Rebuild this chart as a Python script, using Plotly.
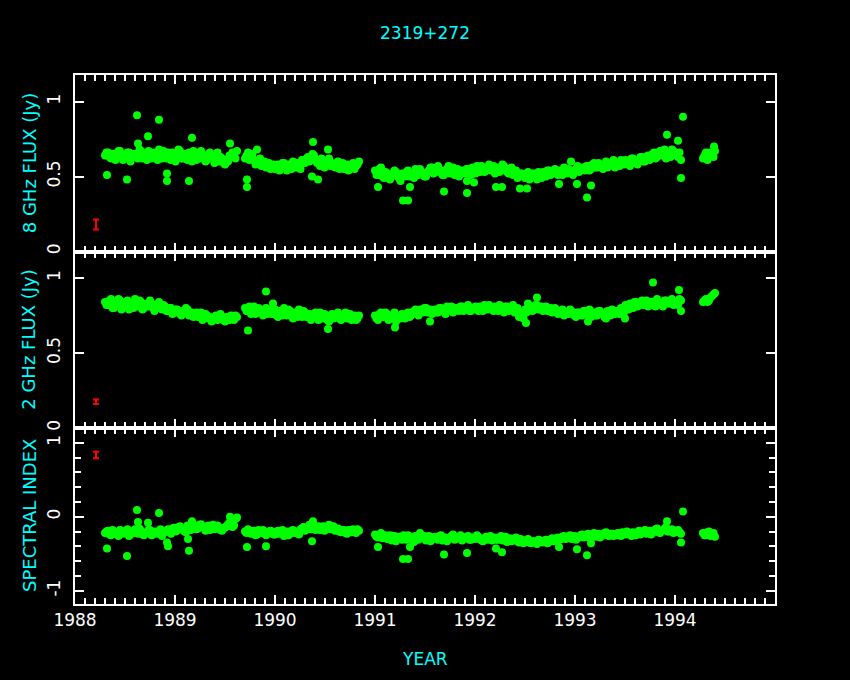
import plotly.graph_objects as go

# ---------------- data ----------------
dates_a = [1988.30, 1988.33, 1988.36, 1988.39, 1988.42, 1988.45, 1988.48, 1988.51, 1988.54, 1988.57,
           1988.60, 1988.63, 1988.66, 1988.69, 1988.72, 1988.75, 1988.78, 1988.81, 1988.84, 1988.87,
           1988.90, 1988.93, 1988.96, 1988.99, 1989.02, 1989.05, 1989.08, 1989.11, 1989.14, 1989.17,
           1989.20, 1989.23, 1989.26, 1989.29, 1989.32, 1989.35, 1989.38, 1989.41, 1989.44, 1989.47,
           1989.50, 1989.53, 1989.56, 1989.59, 1989.62]
dates_b = [1989.70, 1989.73, 1989.76, 1989.79, 1989.82, 1989.85, 1989.88, 1989.91, 1989.94, 1989.97,
           1990.00, 1990.03, 1990.06, 1990.09, 1990.12, 1990.15, 1990.18, 1990.21, 1990.24, 1990.27,
           1990.30, 1990.33, 1990.36, 1990.39, 1990.42, 1990.45, 1990.48, 1990.51, 1990.54, 1990.57,
           1990.60, 1990.63, 1990.66, 1990.69, 1990.72, 1990.75, 1990.78, 1990.81, 1990.84]
dates_c = [1991.00, 1991.03, 1991.06, 1991.09, 1991.12, 1991.15, 1991.18, 1991.21, 1991.24, 1991.27,
           1991.30, 1991.33, 1991.36, 1991.39, 1991.42, 1991.45, 1991.48, 1991.51, 1991.54, 1991.57,
           1991.60, 1991.63, 1991.66, 1991.69, 1991.72, 1991.75, 1991.78, 1991.81, 1991.84, 1991.87,
           1991.90, 1991.93, 1991.96, 1991.99,
           1992.02, 1992.05, 1992.08, 1992.11, 1992.14, 1992.17, 1992.20, 1992.23, 1992.26, 1992.29,
           1992.32, 1992.35, 1992.38, 1992.41, 1992.44, 1992.47, 1992.50, 1992.53, 1992.56, 1992.59,
           1992.62, 1992.65, 1992.68, 1992.71, 1992.74, 1992.77, 1992.80, 1992.83, 1992.86, 1992.89,
           1992.92, 1992.95, 1992.98,
           1993.01, 1993.04, 1993.07, 1993.10, 1993.13, 1993.16, 1993.19, 1993.22, 1993.25, 1993.28,
           1993.31, 1993.34, 1993.37, 1993.40, 1993.43, 1993.46, 1993.49, 1993.52, 1993.55, 1993.58,
           1993.61, 1993.64, 1993.67, 1993.70, 1993.73, 1993.76, 1993.79, 1993.82, 1993.85, 1993.88,
           1993.91, 1993.94, 1993.97,
           1994.00, 1994.03, 1994.06]
dates_d = [1994.28, 1994.31, 1994.34, 1994.37, 1994.40]

# interleaved second set of observation dates
dates2_a = [1988.315, 1988.345, 1988.375, 1988.405, 1988.435, 1988.465, 1988.495, 1988.525, 1988.555, 1988.585,
            1988.615, 1988.645, 1988.675, 1988.705, 1988.735, 1988.765, 1988.795, 1988.825, 1988.855, 1988.885,
            1988.915, 1988.945, 1988.975, 1989.005, 1989.035, 1989.065, 1989.095, 1989.125, 1989.155, 1989.185,
            1989.215, 1989.245, 1989.275, 1989.305, 1989.335, 1989.365, 1989.395, 1989.425, 1989.455, 1989.485,
            1989.515, 1989.545, 1989.575, 1989.605]
dates2_b = [1989.715, 1989.745, 1989.775, 1989.805, 1989.835, 1989.865, 1989.895, 1989.925, 1989.955, 1989.985,
            1990.015, 1990.045, 1990.075, 1990.105, 1990.135, 1990.165, 1990.195, 1990.225, 1990.255, 1990.285,
            1990.315, 1990.345, 1990.375, 1990.405, 1990.435, 1990.465, 1990.495, 1990.525, 1990.555, 1990.585,
            1990.615, 1990.645, 1990.675, 1990.705, 1990.735, 1990.765, 1990.795, 1990.825]
dates2_c = [1991.015, 1991.045, 1991.075, 1991.105, 1991.135, 1991.165, 1991.195, 1991.225, 1991.255, 1991.285,
            1991.315, 1991.345, 1991.375, 1991.405, 1991.435, 1991.465, 1991.495, 1991.525, 1991.555, 1991.585,
            1991.615, 1991.645, 1991.675, 1991.705, 1991.735, 1991.765, 1991.795, 1991.825, 1991.855, 1991.885,
            1991.915, 1991.945, 1991.975,
            1992.005, 1992.035, 1992.065, 1992.095, 1992.125, 1992.155, 1992.185, 1992.215, 1992.245, 1992.275,
            1992.305, 1992.335, 1992.365, 1992.395, 1992.425, 1992.455, 1992.485, 1992.515, 1992.545, 1992.575,
            1992.605, 1992.635, 1992.665, 1992.695, 1992.725, 1992.755, 1992.785, 1992.815, 1992.845, 1992.875,
            1992.905, 1992.935, 1992.965, 1992.995,
            1993.025, 1993.055, 1993.085, 1993.115, 1993.145, 1993.175, 1993.205, 1993.235, 1993.265, 1993.295,
            1993.325, 1993.355, 1993.385, 1993.415, 1993.445, 1993.475, 1993.505, 1993.535, 1993.565, 1993.595,
            1993.625, 1993.655, 1993.685, 1993.715, 1993.745, 1993.775, 1993.805, 1993.835, 1993.865, 1993.895,
            1993.925, 1993.955, 1993.985,
            1994.015, 1994.045]
dates2_d = [1994.295, 1994.325, 1994.355, 1994.385]

# 8 GHz flux (Jy)
s8_a = [0.64, 0.66, 0.62, 0.65, 0.63, 0.67, 0.61, 0.64, 0.66, 0.63,
        0.65, 0.62, 0.67, 0.64, 0.61, 0.66, 0.63, 0.65, 0.68, 0.62,
        0.64, 0.66, 0.61, 0.65, 0.63, 0.67, 0.62, 0.64, 0.66, 0.60,
        0.65, 0.63, 0.67, 0.64, 0.61, 0.66, 0.62, 0.64, 0.60, 0.62,
        0.58, 0.60, 0.63, 0.65, 0.67]
s8_b = [0.62, 0.66, 0.63, 0.61, 0.59, 0.62, 0.58, 0.56, 0.59, 0.57,
        0.55, 0.58, 0.56, 0.59, 0.54, 0.57, 0.60, 0.56, 0.58, 0.61,
        0.59, 0.63, 0.61, 0.64, 0.59, 0.57, 0.61, 0.58, 0.62, 0.59,
        0.56, 0.60, 0.57, 0.55, 0.58, 0.56, 0.59, 0.57, 0.60]
s8_c = [0.54, 0.51, 0.56, 0.49, 0.52, 0.48, 0.51, 0.53, 0.49, 0.52,
        0.50, 0.54, 0.51, 0.49, 0.53, 0.55, 0.52, 0.50, 0.54, 0.56,
        0.53, 0.57, 0.54, 0.51, 0.55, 0.52, 0.56, 0.53, 0.50, 0.54,
        0.52, 0.55, 0.51, 0.54, 0.57, 0.53, 0.56, 0.54, 0.58, 0.55,
        0.52, 0.56, 0.54, 0.57, 0.53, 0.55, 0.51, 0.54, 0.50, 0.52,
        0.49, 0.53, 0.50, 0.52, 0.48, 0.51, 0.53, 0.50, 0.54, 0.52,
        0.55, 0.51, 0.53, 0.56, 0.52, 0.54, 0.51, 0.55, 0.53, 0.56,
        0.54, 0.57, 0.55, 0.59, 0.56, 0.58, 0.55, 0.60, 0.57, 0.59,
        0.56, 0.59, 0.61, 0.58, 0.60, 0.57, 0.62, 0.59, 0.61, 0.63,
        0.60, 0.64, 0.62, 0.66, 0.63, 0.67, 0.64, 0.62, 0.66, 0.68,
        0.65, 0.63, 0.61]
s8_d = [0.62, 0.66, 0.63, 0.65, 0.67]
s8_2a = [0.66, 0.63, 0.65, 0.61, 0.67, 0.64, 0.62, 0.66, 0.60, 0.65,
         0.63, 0.68, 0.62, 0.65, 0.67, 0.62, 0.66, 0.61, 0.64, 0.67,
         0.62, 0.63, 0.66, 0.60, 0.68, 0.62, 0.65, 0.61, 0.63, 0.67,
         0.61, 0.66, 0.62, 0.60, 0.65, 0.63, 0.59, 0.66, 0.63, 0.59,
         0.61, 0.64, 0.66, 0.62]
s8_2b = [0.64, 0.61, 0.65, 0.58, 0.60, 0.57, 0.60, 0.58, 0.55, 0.58,
         0.57, 0.54, 0.59, 0.56, 0.58, 0.55, 0.58, 0.59, 0.55, 0.60,
         0.62, 0.60, 0.65, 0.61, 0.59, 0.62, 0.56, 0.60, 0.57, 0.58,
         0.58, 0.55, 0.59, 0.57, 0.54, 0.58, 0.55, 0.58]
s8_2c = [0.51, 0.55, 0.50, 0.53, 0.49, 0.52, 0.54, 0.50, 0.47, 0.51,
         0.53, 0.50, 0.52, 0.55, 0.51, 0.53, 0.50, 0.53, 0.56, 0.52,
         0.55, 0.53, 0.51, 0.54, 0.57, 0.53, 0.51, 0.55, 0.52, 0.53,
         0.55, 0.53, 0.56, 0.52, 0.55, 0.57, 0.53, 0.56, 0.54, 0.57,
         0.55, 0.53, 0.58, 0.55, 0.52, 0.56, 0.53, 0.49, 0.52, 0.50,
         0.51, 0.48, 0.52, 0.50, 0.53, 0.49, 0.51, 0.54, 0.51, 0.53,
         0.52, 0.54, 0.51, 0.53, 0.55, 0.52, 0.54, 0.57, 0.54, 0.55,
         0.57, 0.54, 0.58, 0.56, 0.59, 0.57, 0.58, 0.56, 0.59, 0.61,
         0.58, 0.57, 0.59, 0.61, 0.58, 0.62, 0.60, 0.58, 0.63, 0.60,
         0.63, 0.61, 0.65, 0.62, 0.64, 0.66, 0.68, 0.65, 0.63, 0.67,
         0.64, 0.66]
s8_2d = [0.64, 0.61, 0.66, 0.63]

# 2 GHz flux (Jy)
s2_a = [0.84, 0.82, 0.86, 0.80, 0.83, 0.85, 0.81, 0.84, 0.79, 0.83,
        0.86, 0.81, 0.84, 0.80, 0.83, 0.85, 0.80, 0.82, 0.84, 0.79,
        0.81, 0.78, 0.80, 0.77, 0.79, 0.76, 0.78, 0.80, 0.75, 0.77,
        0.76, 0.74, 0.77, 0.73, 0.75, 0.74, 0.72, 0.75, 0.73, 0.74,
        0.71, 0.73, 0.75, 0.72, 0.74]
s2_b = [0.80, 0.78, 0.76, 0.81, 0.77, 0.79, 0.75, 0.80, 0.78, 0.76,
        0.79, 0.74, 0.77, 0.80, 0.75, 0.78, 0.73, 0.76, 0.79, 0.74,
        0.77, 0.75, 0.72, 0.76, 0.74, 0.77, 0.73, 0.75, 0.71, 0.76,
        0.74, 0.77, 0.72, 0.75, 0.73, 0.76, 0.74, 0.72, 0.75]
s2_c = [0.75, 0.72, 0.77, 0.74, 0.76, 0.73, 0.75, 0.71, 0.74, 0.76,
        0.73, 0.77, 0.75, 0.78, 0.76, 0.79, 0.77, 0.80, 0.78, 0.76,
        0.79, 0.77, 0.80, 0.78, 0.81, 0.79, 0.77, 0.80, 0.78, 0.81,
        0.79, 0.82, 0.78, 0.80, 0.79, 0.81, 0.78, 0.80, 0.82, 0.79,
        0.81, 0.78, 0.80, 0.77, 0.81, 0.79, 0.82, 0.78, 0.74, 0.76,
        0.79, 0.83, 0.81, 0.79, 0.82, 0.80, 0.78, 0.81, 0.79, 0.77,
        0.80, 0.76, 0.78, 0.75, 0.77, 0.79, 0.76, 0.74, 0.77, 0.75,
        0.78, 0.76, 0.74, 0.77, 0.75, 0.78, 0.76, 0.73, 0.77, 0.79,
        0.76, 0.78, 0.80, 0.77, 0.81, 0.83, 0.80, 0.84, 0.82, 0.85,
        0.83, 0.81, 0.84, 0.82, 0.86, 0.83, 0.81, 0.85, 0.83, 0.86,
        0.84, 0.82, 0.85]
s2_d = [0.84, 0.86, 0.85, 0.88, 0.90]
s2_2a = [0.82, 0.85, 0.80, 0.83, 0.86, 0.79, 0.82, 0.85, 0.81, 0.80,
         0.83, 0.85, 0.79, 0.82, 0.81, 0.83, 0.78, 0.81, 0.80, 0.82,
         0.78, 0.80, 0.76, 0.79, 0.78, 0.75, 0.77, 0.79, 0.76, 0.74,
         0.77, 0.75, 0.72, 0.76, 0.73, 0.71, 0.74, 0.72, 0.76, 0.72,
         0.74, 0.72, 0.73, 0.75]
s2_2b = [0.78, 0.81, 0.78, 0.76, 0.80, 0.77, 0.79, 0.76, 0.79, 0.77,
         0.75, 0.78, 0.75, 0.77, 0.79, 0.75, 0.77, 0.74, 0.76, 0.78,
         0.74, 0.76, 0.74, 0.77, 0.72, 0.75, 0.76, 0.72, 0.74, 0.73,
         0.76, 0.73, 0.75, 0.77, 0.74, 0.72, 0.75, 0.73]
s2_2c = [0.73, 0.76, 0.74, 0.77, 0.72, 0.75, 0.77, 0.74, 0.73, 0.75,
         0.76, 0.74, 0.77, 0.79, 0.75, 0.78, 0.80, 0.77, 0.79, 0.78,
         0.77, 0.80, 0.78, 0.76, 0.79, 0.81, 0.78, 0.79, 0.81, 0.78,
         0.80, 0.78, 0.80, 0.81, 0.78, 0.80, 0.82, 0.79, 0.81, 0.78,
         0.80, 0.82, 0.79, 0.81, 0.78, 0.80, 0.77, 0.80, 0.77, 0.73,
         0.77, 0.80, 0.78, 0.82, 0.79, 0.81, 0.80, 0.78, 0.80, 0.79,
         0.78, 0.77, 0.79, 0.77, 0.76, 0.78, 0.75, 0.77, 0.76, 0.78,
         0.76, 0.79, 0.77, 0.75, 0.78, 0.76, 0.74, 0.78, 0.75, 0.77,
         0.78, 0.76, 0.79, 0.82, 0.79, 0.82, 0.84, 0.81, 0.83, 0.82,
         0.85, 0.82, 0.84, 0.81, 0.84, 0.82, 0.85, 0.83, 0.84, 0.82,
         0.84, 0.86]
s2_2d = [0.85, 0.84, 0.87, 0.89]

# spectral index
si_a = [-0.22, -0.19, -0.25, -0.20, -0.24, -0.18, -0.23, -0.21, -0.26, -0.20,
        -0.17, -0.23, -0.19, -0.25, -0.21, -0.18, -0.24, -0.22, -0.19, -0.26,
        -0.21, -0.17, -0.23, -0.15, -0.19, -0.13, -0.18, -0.21, -0.14, -0.17,
        -0.12, -0.16, -0.10, -0.15, -0.13, -0.18, -0.11, -0.14, -0.16, -0.19,
        -0.15, -0.10, -0.06, -0.12, -0.01]
si_b = [-0.20, -0.17, -0.23, -0.19, -0.24, -0.21, -0.18, -0.25, -0.22, -0.20,
        -0.24, -0.19, -0.22, -0.26, -0.20, -0.23, -0.18, -0.21, -0.24, -0.16,
        -0.19, -0.14, -0.17, -0.12, -0.15, -0.18, -0.13, -0.16, -0.11, -0.15,
        -0.19, -0.16, -0.21, -0.18, -0.23, -0.20, -0.17, -0.22, -0.19]
si_c = [-0.24, -0.28, -0.22, -0.27, -0.30, -0.25, -0.29, -0.33, -0.27, -0.31,
        -0.28, -0.25, -0.30, -0.34, -0.27, -0.22, -0.29, -0.32, -0.26, -0.30,
        -0.27, -0.31, -0.25, -0.29, -0.33, -0.28, -0.24, -0.30, -0.27, -0.32,
        -0.29, -0.26, -0.31, -0.28, -0.25, -0.30, -0.33, -0.27, -0.29, -0.32,
        -0.28, -0.31, -0.26, -0.30, -0.34, -0.29, -0.32, -0.28, -0.35, -0.31,
        -0.34, -0.30, -0.36, -0.33, -0.37, -0.32, -0.35, -0.31, -0.34, -0.29,
        -0.32, -0.28, -0.30, -0.26, -0.29, -0.25, -0.28, -0.31, -0.27, -0.24,
        -0.27, -0.23, -0.26, -0.22, -0.25, -0.28, -0.24, -0.21, -0.26, -0.23,
        -0.25, -0.22, -0.26, -0.23, -0.20, -0.24, -0.21, -0.25, -0.19, -0.22,
        -0.18, -0.21, -0.24, -0.19, -0.16, -0.22, -0.18, -0.14, -0.20, -0.17,
        -0.21, -0.18, -0.23]
si_d = [-0.22, -0.25, -0.20, -0.24, -0.27]
si_2a = [-0.20, -0.24, -0.18, -0.22, -0.26, -0.19, -0.21, -0.17, -0.24, -0.22,
         -0.20, -0.16, -0.24, -0.22, -0.18, -0.25, -0.20, -0.23, -0.17, -0.21,
         -0.19, -0.20, -0.16, -0.20, -0.14, -0.17, -0.20, -0.12, -0.18, -0.15,
         -0.17, -0.11, -0.14, -0.19, -0.12, -0.15, -0.17, -0.12, -0.18, -0.15,
         -0.13, -0.08, -0.14, -0.03]
si_2b = [-0.22, -0.19, -0.21, -0.25, -0.18, -0.22, -0.20, -0.23, -0.19, -0.24,
         -0.21, -0.23, -0.18, -0.22, -0.25, -0.19, -0.22, -0.20, -0.17, -0.14,
         -0.17, -0.11, -0.15, -0.18, -0.13, -0.15, -0.19, -0.14, -0.17, -0.13,
         -0.17, -0.20, -0.18, -0.22, -0.18, -0.21, -0.19, -0.17]
si_2c = [-0.27, -0.24, -0.29, -0.25, -0.28, -0.32, -0.26, -0.30, -0.28, -0.25,
         -0.31, -0.27, -0.29, -0.26, -0.31, -0.28, -0.26, -0.30, -0.33, -0.28,
         -0.30, -0.26, -0.32, -0.28, -0.30, -0.26, -0.31, -0.28, -0.25, -0.30,
         -0.27, -0.31, -0.28, -0.30, -0.27, -0.32, -0.29, -0.31, -0.26, -0.30,
         -0.31, -0.28, -0.32, -0.27, -0.30, -0.33, -0.30, -0.33, -0.30, -0.36,
         -0.32, -0.35, -0.33, -0.35, -0.31, -0.34, -0.32, -0.36, -0.31, -0.33,
         -0.29, -0.31, -0.27, -0.30, -0.27, -0.30, -0.26, -0.29, -0.25, -0.28,
         -0.25, -0.28, -0.24, -0.27, -0.23, -0.26, -0.22, -0.25, -0.23, -0.26,
         -0.23, -0.25, -0.21, -0.24, -0.22, -0.26, -0.23, -0.21, -0.24, -0.20,
         -0.23, -0.19, -0.22, -0.17, -0.21, -0.19, -0.16, -0.20, -0.18, -0.22,
         -0.19, -0.21]
si_2d = [-0.25, -0.21, -0.26, -0.22]

# isolated points
out8_dates = [1988.62, 1988.84, 1988.73, 1988.63, 1989.17, 1988.32, 1988.52, 1988.92, 1988.92, 1989.14,
              1989.55, 1989.72, 1989.72, 1989.82, 1990.38, 1990.37, 1990.43, 1990.53, 1991.03, 1991.03,
              1991.28, 1991.33, 1991.35, 1991.69, 1991.92, 1991.92, 1991.99, 1992.21, 1992.27, 1992.45,
              1992.52, 1992.84, 1992.96, 1993.02, 1993.12, 1993.16, 1993.92, 1994.03, 1994.08, 1994.06,
              1994.39]
out8_vals = [0.91, 0.88, 0.77, 0.72, 0.76, 0.51, 0.48, 0.52, 0.47, 0.47,
             0.72, 0.48, 0.43, 0.68, 0.73, 0.50, 0.48, 0.68, 0.43, 0.51,
             0.34, 0.34, 0.43, 0.40, 0.39, 0.47, 0.46, 0.43, 0.43, 0.42,
             0.42, 0.45, 0.60, 0.45, 0.36, 0.44, 0.78, 0.74, 0.90, 0.49,
             0.70]
out2_dates = [1989.73, 1989.91, 1989.98, 1990.53, 1991.20, 1991.55, 1992.51, 1992.62, 1993.13,
              1993.50, 1993.78, 1994.04, 1994.06]
out2_vals = [0.65, 0.91, 0.83, 0.66, 0.67, 0.71, 0.70, 0.87, 0.71, 0.73, 0.97, 0.92, 0.78]
outsi_dates = [1988.62, 1988.84, 1988.63, 1988.73, 1989.17, 1988.32, 1988.52, 1988.92, 1988.93, 1989.14,
               1989.13, 1989.55, 1989.72, 1989.91, 1990.38, 1990.37, 1991.03, 1991.28, 1991.33, 1991.35,
               1991.69, 1991.92, 1992.21, 1992.27, 1992.84, 1993.02, 1993.12, 1993.16, 1993.92, 1994.08,
               1994.06]
outsi_vals = [0.09, 0.05, -0.07, -0.08, -0.06, -0.43, -0.53, -0.35, -0.40, -0.46,
              -0.30, 0.00, -0.41, -0.40, -0.06, -0.33, -0.41, -0.57, -0.57, -0.41,
              -0.51, -0.49, -0.43, -0.48, -0.41, -0.44, -0.52, -0.36, -0.06, 0.07,
              -0.35]

# typical error bars
err_date = 1988.21
err8 = (0.18, 0.033)
err2 = (0.175, 0.015)
errsi = (0.835, 0.045)

year_ticks = [1988, 1989, 1990, 1991, 1992, 1993, 1994, 1995]
year_labels = ["1988", "1989", "1990", "1991", "1992", "1993", "1994", ""]

title_text = "2319+272"
xtitle = "YEAR"
ytitles = ["8 GHz FLUX (Jy)", "2 GHz FLUX (Jy)", "SPECTRAL INDEX"]

# ---------------- figure ----------------
dates = dates_a + dates_b + dates_c + dates_d + dates2_a + dates2_b + dates2_c + dates2_d
s8 = s8_a + s8_b + s8_c + s8_d + s8_2a + s8_2b + s8_2c + s8_2d
s2 = s2_a + s2_b + s2_c + s2_d + s2_2a + s2_2b + s2_2c + s2_2d
si = si_a + si_b + si_c + si_d + si_2a + si_2b + si_2c + si_2d

GREEN = "#00ff00"
CYAN = "#00ffff"
RED = "#ff0000"
FONT = "DejaVu Sans"
msize = 8

fig = go.Figure()
panels = [
    ("x", "y", s8, out8_dates, out8_vals, err8),
    ("x2", "y2", s2, out2_dates, out2_vals, err2),
    ("x3", "y3", si, outsi_dates, outsi_vals, errsi),
]
for xa, ya, vals, od, ov, err in panels:
    fig.add_trace(go.Scatter(x=dates, y=vals, xaxis=xa, yaxis=ya, mode="markers",
                             marker=dict(color=GREEN, size=msize, line=dict(width=0))))
    fig.add_trace(go.Scatter(x=od, y=ov, xaxis=xa, yaxis=ya, mode="markers",
                             marker=dict(color=GREEN, size=msize, line=dict(width=0))))
    fig.add_trace(go.Scatter(x=[err_date], y=[err[0]], xaxis=xa, yaxis=ya, mode="markers",
                             marker=dict(color=RED, size=1),
                             error_y=dict(type="data", array=[err[1]], color=RED,
                                          thickness=2, width=3)))

H = 529.0
b1 = (604 - 251.5) / H
b2 = (604 - 428.0) / H
domains = [[b1, 1.0], [b2, b1], [0.0, b2]]

def xaxis_cfg(anchor, show_labels):
    return dict(range=[1988, 1995], anchor=anchor, showline=True, linecolor="white", linewidth=2,
                mirror="ticks", ticks="inside", ticklen=9, tickwidth=2, tickcolor="white",
                tickmode="array", tickvals=year_ticks, ticktext=year_labels,
                showticklabels=show_labels, showgrid=False, zeroline=False,
                tickfont=dict(family=FONT, size=17, color="white"),
                minor=dict(tickmode="linear", tick0=1988, dtick=0.1, ticks="inside", ticklen=6,
                           tickwidth=2, tickcolor="white", showgrid=False))

def yaxis_cfg(anchor, dom, rng, tv, tt, minor_dtick=None):
    d = dict(domain=dom, range=rng, anchor=anchor, showline=True, linecolor="white", linewidth=2,
             mirror="ticks", ticks="inside", ticklen=9, tickwidth=2, tickcolor="white",
             tickmode="array", tickvals=tv, ticktext=tt, tickangle=-90,
             showgrid=False, zeroline=False, ticklabelstandoff=6,
             tickfont=dict(family=FONT, size=17, color="white"))
    if minor_dtick:
        d["minor"] = dict(tickmode="linear", tick0=0, dtick=minor_dtick, ticks="inside", ticklen=6,
                          tickwidth=2, tickcolor="white", showgrid=False)
    return d

fig.update_layout(
    width=850, height=680,
    paper_bgcolor="black", plot_bgcolor="black",
    margin=dict(l=75, r=75, t=75, b=76),
    showlegend=False,
    xaxis=xaxis_cfg("y", False),
    xaxis2=xaxis_cfg("y2", False),
    xaxis3=xaxis_cfg("y3", True),
    yaxis=yaxis_cfg("x", domains[0], [0, 1.178], [0, 0.5, 1], ["0", "0.5", "1"]),
    yaxis2=yaxis_cfg("x2", domains[1], [0, 1.177], [0, 0.5, 1], ["0", "0.5", "1"]),
    yaxis3=yaxis_cfg("x3", domains[2], [-1.18, 1.2], [-1, 0, 1], ["-1", "0", "1"], 0.2),
)

ann = [dict(text=title_text, x=0.5, y=(604 - 33) / H, xref="paper", yref="paper",
            xanchor="center", yanchor="middle",
            showarrow=False, font=dict(family=FONT, size=17, color=CYAN)),
       dict(text=xtitle, x=0.5, y=(604 - 659) / H, xref="paper", yref="paper",
            xanchor="center", yanchor="middle",
            showarrow=False, font=dict(family=FONT, size=17, color=CYAN))]
for t, dom in zip(ytitles, domains):
    ann.append(dict(text=t, x=(29 - 75) / 700.0, y=(dom[0] + dom[1]) / 2, xref="paper", yref="paper",
                    textangle=-90, showarrow=False, xanchor="center", yanchor="middle",
                    font=dict(family=FONT, size=18, color=CYAN)))
fig.update_layout(annotations=ann)

fig.write_html("out.html", config={"displayModeBar": False},
               post_script="document.body.style.margin='0';document.body.style.padding='0';"
                           "document.body.style.overflow='hidden';document.body.style.background='black';")
